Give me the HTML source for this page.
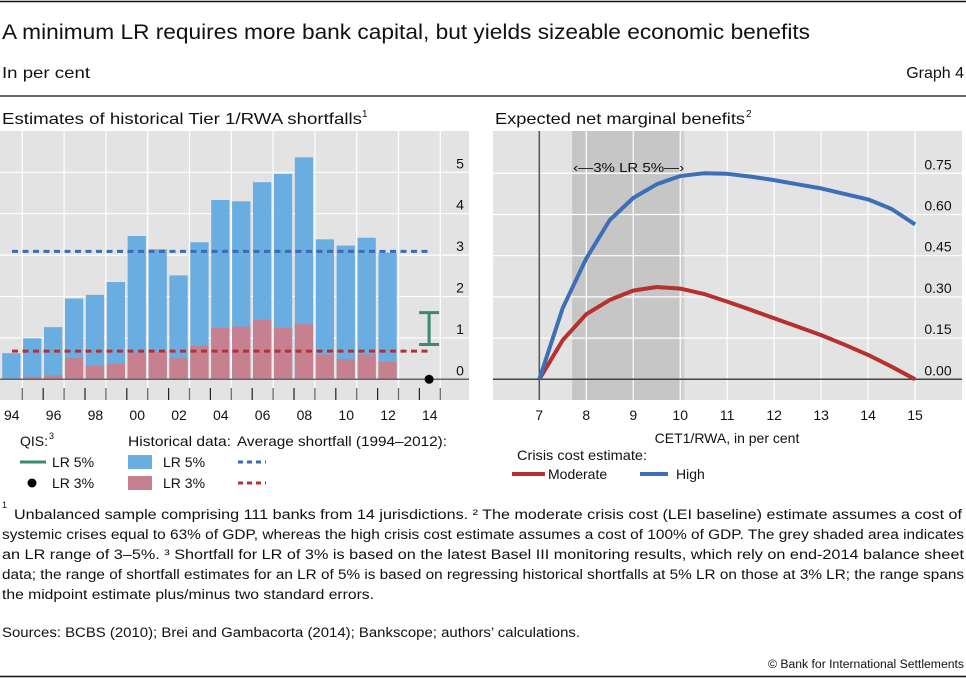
<!DOCTYPE html>
<html><head><meta charset="utf-8"><style>
html,body{margin:0;padding:0;background:#fff;}
svg{display:block;font-family:"Liberation Sans",sans-serif;}
</style></head><body>
<svg id="chart" width="966" height="678" viewBox="0 0 966 678" xmlns="http://www.w3.org/2000/svg">
<line x1="0" y1="1.5" x2="966" y2="1.5" stroke="#111" stroke-width="1.5"/>
<text x="2" y="39" font-size="21" fill="#111" textLength="808" lengthAdjust="spacingAndGlyphs">A minimum LR requires more bank capital, but yields sizeable economic benefits</text>
<text x="2" y="78" font-size="16" fill="#111" textLength="88" lengthAdjust="spacingAndGlyphs">In per cent</text>
<text x="964" y="78" font-size="16" fill="#111" text-anchor="end">Graph 4</text>
<line x1="0" y1="96" x2="966" y2="96" stroke="#111" stroke-width="1.2"/>
<text x="2" y="124" font-size="16" fill="#111" textLength="360" lengthAdjust="spacingAndGlyphs">Estimates of historical Tier 1/RWA shortfalls</text>
<text x="362" y="117" font-size="10" fill="#111">1</text>
<text x="495" y="124" font-size="16" fill="#111" textLength="250" lengthAdjust="spacingAndGlyphs">Expected net marginal benefits</text>
<text x="746" y="117" font-size="10" fill="#111">2</text>
<g id="left"></g>
<g id="right"></g>
<g id="legends" font-size="14" fill="#111">
<text x="20" y="446">QIS:</text><text x="49" y="439" font-size="9">3</text>
<line x1="20" y1="462" x2="46" y2="462" stroke="#3a8a6e" stroke-width="3"/>
<text x="52" y="467">LR 5%</text>
<circle cx="32" cy="483" r="4.5" fill="#000"/>
<text x="52" y="488">LR 3%</text>
<text x="128" y="446" textLength="103" lengthAdjust="spacingAndGlyphs">Historical data:</text>
<rect x="128" y="455" width="24" height="14" fill="#6aade0"/>
<text x="163" y="467">LR 5%</text>
<rect x="128" y="476" width="24" height="14" fill="#c6808f"/>
<text x="163" y="488">LR 3%</text>
<text x="237" y="446" textLength="210" lengthAdjust="spacingAndGlyphs">Average shortfall (1994–2012):</text>
<line x1="238" y1="462" x2="266" y2="462" stroke="#3a6bb5" stroke-width="3" stroke-dasharray="5,4"/>
<line x1="238" y1="483" x2="266" y2="483" stroke="#b2303a" stroke-width="3" stroke-dasharray="5,4"/>
<text x="517" y="460" textLength="130" lengthAdjust="spacingAndGlyphs">Crisis cost estimate:</text>
<line x1="512" y1="474" x2="545" y2="474" stroke="#b5302f" stroke-width="4"/>
<text x="548" y="479">Moderate</text>
<line x1="640" y1="474" x2="668" y2="474" stroke="#3d6fb8" stroke-width="4"/>
<text x="676" y="479">High</text>
</g>
<g font-size="13.5" fill="#111">
<text x="2" y="508" font-size="9">1</text>
<text x="14" y="519" textLength="948" lengthAdjust="spacingAndGlyphs">Unbalanced sample comprising 111 banks from 14 jurisdictions.      ² The moderate crisis cost (LEI baseline) estimate assumes a cost of</text>
<text x="2" y="539" textLength="962" lengthAdjust="spacingAndGlyphs">systemic crises equal to 63% of GDP, whereas the high crisis cost estimate assumes a cost of 100% of GDP. The grey shaded area indicates</text>
<text x="2" y="559" textLength="962" lengthAdjust="spacingAndGlyphs">an LR range of 3–5%.    ³ Shortfall for LR of 3% is based on the latest Basel III monitoring results, which rely on end-2014 balance sheet</text>
<text x="2" y="579" textLength="962" lengthAdjust="spacingAndGlyphs">data; the range of shortfall estimates for an LR of 5% is based on regressing historical shortfalls at 5% LR on those at 3% LR; the range spans</text>
<text x="2" y="599" textLength="372" lengthAdjust="spacingAndGlyphs">the midpoint estimate plus/minus two standard errors.</text>
<text x="2" y="637" textLength="578" lengthAdjust="spacingAndGlyphs">Sources: BCBS (2010); Brei and Gambacorta (2014); Bankscope; authors’ calculations.</text>
<text x="964" y="668" font-size="11.5" text-anchor="end" textLength="196" lengthAdjust="spacingAndGlyphs">© Bank for International Settlements</text>
</g>
<line x1="0" y1="676.5" x2="966" y2="676.5" stroke="#111" stroke-width="1.5"/>
</svg>
<script>
// ---- Left chart data ----
const years = [1994,1995,1996,1997,1998,1999,2000,2001,2002,2003,2004,2005,2006,2007,2008,2009,2010,2011,2012];
const lr5Values = [0.63,0.99,1.26,1.95,2.04,2.35,3.46,3.14,2.51,3.31,4.33,4.30,4.76,4.96,5.36,3.38,3.23,3.42,3.06];
const lr3Values = [0.02,0.06,0.10,0.51,0.33,0.38,0.64,0.66,0.51,0.82,1.24,1.27,1.44,1.24,1.33,0.60,0.49,0.60,0.42];
const avgLr5 = 3.09;
const avgLr3 = 0.68;
const qisYear = 2014;
const qisLr5Range = [0.84, 1.61];
const qisLr3 = 0;
const leftYTicks = [0,1,2,3,4,5];
const leftXLabels = ['94','96','98','00','02','04','06','08','10','12','14'];
// ---- Right chart data ----
const cetX = [7,7.5,8,8.5,9,9.5,10,10.5,11,11.5,12,12.5,13,13.5,14,14.5,15];
const highValues = [0,0.26,0.44,0.58,0.66,0.71,0.74,0.75,0.748,0.738,0.725,0.71,0.695,0.675,0.655,0.62,0.564];
const moderateValues = [0,0.143,0.237,0.289,0.323,0.336,0.33,0.311,0.283,0.253,0.222,0.192,0.161,0.126,0.089,0.046,0];
const shadeRange = [7.7, 10.0];
const rightYTicks = [0,0.15,0.30,0.45,0.60,0.75];
const rightXTicks = [7,8,9,10,11,12,13,14,15];

const NS='http://www.w3.org/2000/svg';
function mk(parent, tag, attrs){const e=document.createElementNS(NS,tag);for(const k in attrs)e.setAttribute(k,attrs[k]);parent.appendChild(e);return e;}

// Left scales
const xL = y => 1.4 + (y-1994)*20.9;
const yL = v => 379.3 - v*41.4;
const L = document.getElementById('left');
let e;
e=mk(L,'rect',{x:0,y:131,width:469,height:269,fill:'#e3e3e3'});


for(const t of leftYTicks){ if(t===0) continue;
  e=mk(L,'line',{x1:0,x2:469,y1:yL(t),y2:yL(t),stroke:'#fff','stroke-width':1.2});
  
  
}
for(let y=1995;y<=2015;y+=2){
  e=mk(L,'line',{x1:xL(y),x2:xL(y),y1:131,y2:388,stroke:'#fff','stroke-width':1.2});
  
  
}
years.forEach((yr,i)=>{
  e=mk(L,'rect',{x:xL(yr)+0.8,y:yL(lr5Values[i]),width:18.3,height:yL(0)-yL(lr5Values[i]),fill:'#6aade0'});
  
  
  e=mk(L,'rect',{x:xL(yr)+0.8,y:yL(lr3Values[i]),width:18.3,height:yL(0)-yL(lr3Values[i]),fill:'#c6808f'});
  
  
});
e=mk(L,'line',{x1:12,x2:431,y1:yL(avgLr5),y2:yL(avgLr5),stroke:'#3a6bb5','stroke-width':3,'stroke-dasharray':'6,4.5'});


e=mk(L,'line',{x1:12,x2:431,y1:yL(avgLr3),y2:yL(avgLr3),stroke:'#b2303a','stroke-width':3,'stroke-dasharray':'6,4.5'});


e=mk(L,'line',{x1:0,x2:469,y1:yL(0),y2:yL(0),stroke:'#666','stroke-width':1.5});


for(let y=1995;y<=2015;y++){
  e=mk(L,'line',{x1:xL(y),x2:xL(y),y1:388,y2:400,stroke:(y%2?'#666':'#222'),'stroke-width':1.2});
  
  
}
const qx = xL(qisYear)+9.7;
const eb = mk(L,'g',{stroke:'#3a8a6e','stroke-width':3,fill:'none'});


mk(eb,'line',{x1:qx,x2:qx,y1:yL(qisLr5Range[1]),y2:yL(qisLr5Range[0])});
mk(eb,'line',{x1:qx-10,x2:qx+10,y1:yL(qisLr5Range[1]),y2:yL(qisLr5Range[1])});
mk(eb,'line',{x1:qx-10,x2:qx+10,y1:yL(qisLr5Range[0]),y2:yL(qisLr5Range[0])});
e=mk(L,'circle',{cx:qx,cy:yL(qisLr3),r:4.5,fill:'#000'});


for(const t of leftYTicks){
  e=mk(L,'text',{x:460,y:yL(t)-4,'font-size':14,'text-anchor':'middle',fill:'#111'}); e.textContent=String(t);
  
  
}
leftXLabels.forEach((lab,i)=>{
  const yr=1994+2*i;
  e=mk(L,'text',{x:xL(yr)+10.4,y:420,'font-size':14,'text-anchor':'middle',fill:'#111'}); e.textContent=lab;
  
  
});

// Right scales
const xR = v => 539.3 + (v-7)*46.97;
const yR = v => 379.3 - v*274.7;
const R = document.getElementById('right');
e=mk(R,'rect',{x:493,y:131,width:469,height:269,fill:'#e3e3e3'});


e=mk(R,'rect',{x:xR(shadeRange[0]),y:131,width:xR(shadeRange[1])-xR(shadeRange[0]),height:269,fill:'#c6c6c6'});


e=mk(R,'rect',{x:xR(shadeRange[1]),y:131,width:4,height:269,fill:'#d0d0d0'});


for(const t of rightYTicks){ if(t===0) continue;
  e=mk(R,'line',{x1:493,x2:962,y1:yR(t),y2:yR(t),stroke:'#fff','stroke-width':1.2});
  
  
}
for(const t of rightXTicks){ if(t===7) continue;
  e=mk(R,'line',{x1:xR(t),x2:xR(t),y1:131,y2:400,stroke:'#fff','stroke-width':1.2});
  
  
}
e=mk(R,'line',{x1:xR(7),x2:xR(7),y1:131,y2:400,stroke:'#555','stroke-width':1.5});


e=mk(R,'line',{x1:493,x2:962,y1:yR(0),y2:yR(0),stroke:'#444','stroke-width':1.5});


e=mk(R,'text',{x:xR(shadeRange[0])+1,y:172,'font-size':12.5,fill:'#111',textLength:111,lengthAdjust:'spacingAndGlyphs'});
e.textContent='‹—3%   LR   5%—›';


function linePath(vals){return vals.map((v,i)=>(i?'L':'M')+xR(cetX[i]).toFixed(1)+','+yR(v).toFixed(1)).join('');}
e=mk(R,'path',{d:linePath(moderateValues),fill:'none',stroke:'#b5302f','stroke-width':4,'stroke-linejoin':'round'});


e=mk(R,'path',{d:linePath(highValues),fill:'none',stroke:'#3d6fb8','stroke-width':4,'stroke-linejoin':'round'});


for(const t of rightYTicks){
  e=mk(R,'text',{x:938,y:yR(t)-4,'font-size':14,'text-anchor':'middle',fill:'#111'}); e.textContent=t.toFixed(2);
  
  
}
for(const t of rightXTicks){
  e=mk(R,'text',{x:xR(t),y:420,'font-size':14,'text-anchor':'middle',fill:'#111'}); e.textContent=String(t);
  
  
}
e=mk(R,'text',{x:727,y:443,'font-size':14,'text-anchor':'middle',fill:'#111'}); e.textContent='CET1/RWA, in per cent';


</script>
</body></html>
